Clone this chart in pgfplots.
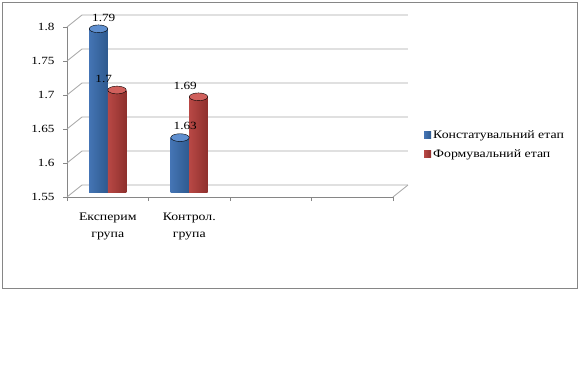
\documentclass[border=0pt]{standalone}
\usepackage{pgfplots}
\pgfplotsset{compat=1.18}
\usepackage{fontspec}
\setmainfont{Liberation Serif}[FakeStretch=1.2]
\definecolor{axc}{HTML}{868686}
\definecolor{gridc}{HTML}{A6A6A6}
\definecolor{bblue}{HTML}{4F81BD}
\definecolor{bblueL}{HTML}{86ABDB}
\definecolor{bblueM}{HTML}{4474B4}
\definecolor{bblueD}{HTML}{2E5A8E}
\definecolor{bblueT}{HTML}{5F8FCF}
\definecolor{bred}{HTML}{C0504D}
\definecolor{bredL}{HTML}{DE8986}
\definecolor{bredM}{HTML}{B84845}
\definecolor{bredD}{HTML}{8E302D}
\definecolor{bredT}{HTML}{D0605C}
\begin{document}
\begin{tikzpicture}[x=1pt,y=1pt]
\useasboundingbox (0,0) rectangle (581,-384);
\draw[axc, line width=1pt] (2.5,-2.5) rectangle (577,-288);
\begin{axis}[
  at={(67pt,-197pt)}, anchor=south west,
  scale only axis, width=326pt, height=170pt,
  xmin=-0.5, xmax=3.5, ymin=1.55, ymax=1.8,
  clip=false,
  axis x line*=bottom, axis y line*=left,
  axis line style={axc, line width=0.8pt},
  every tick/.style={axc, line width=0.8pt},
  tick align=outside,
  major tick length=4pt,
  font=\fontsize{11pt}{13pt}\selectfont,
  xtick={-0.5,0.5,1.5,2.5,3.5}, xticklabels={},
  extra x ticks={0,1},
  extra x tick labels={{Експерим\\група},{Контрол.\\група}},
  extra x tick style={major tick length=0pt, tick label style={align=center, font=\fontsize{11.5pt}{17.5pt}\selectfont, yshift=-12pt}},
  ytick={1.55,1.6,1.65,1.7,1.75,1.8},
  yticklabels={1.55,1.6,1.65,1.7,1.75,1.8},
  yticklabel style={xshift=-5pt},
]
\pgfplotsinvokeforeach{1.55,1.6,1.65,1.7,1.75,1.8}{
  \draw[gridc, line width=0.8pt] (axis cs:-0.5,#1) -- ++(15pt,12pt) -- ([shift={(15pt,12pt)}]axis cs:3.5,#1);
}
\draw[gridc, line width=0.8pt] (axis cs:3.5,1.55) -- ++(15pt,12pt);
\end{axis}
\begin{axis}[
  at={(67pt,-192pt)}, anchor=south west,
  scale only axis, width=326pt, height=170pt,
  xmin=-0.5, xmax=3.5, ymin=1.55, ymax=1.8,
  hide axis, clip=false,
  bar width=18.5pt,
  font=\fontsize{11pt}{13pt}\selectfont,
  /pgf/number format/assume math mode=true,
  legend style={at={(1.086,0.279)}, anchor=west, draw=none, fill=none,
    font=\fontsize{11.5pt}{13pt}\selectfont, row sep=6pt,
    /tikz/every even column/.append style={column sep=1pt}},
  legend cell align=left,
  lbl/.style={nodes near coords,
    every node near coord/.append style={font=\fontsize{11pt}{13pt}\selectfont, xshift=-4pt, yshift=4pt, text=black}},
  blue bar/.style={ybar, lbl, draw=none, bar shift=-9.25pt, left color=bblueM, middle color=bblueL, right color=bblueD,
    legend image code/.code={\fill[bblue] (0pt,-3.5pt) rectangle (7pt,3.5pt);}},
  red bar/.style={ybar, lbl, draw=none, bar shift=9.25pt, left color=bredM, middle color=bredL, right color=bredD,
    legend image code/.code={\fill[bred] (0pt,-3.5pt) rectangle (7pt,3.5pt);}},
  blue top/.style={only marks, forget plot, mark=*, mark size=9.25pt,
    mark options={draw=none, fill=bblueT, xshift=-9.25pt, yscale=0.42}},
  red top/.style={only marks, forget plot, mark=*, mark size=9.25pt,
    mark options={draw=none, fill=bredT, xshift=9.25pt, yscale=0.42}},
]
\addplot[blue bar] coordinates {(0,1.79)};
\addplot[blue bar, forget plot] coordinates {(1,1.63)};
\addplot[red bar] coordinates {(0,1.7)};
\addplot[red bar, forget plot] coordinates {(1,1.69)};
\addplot[blue top] coordinates {(0,1.79) (1,1.63)};
\addplot[red top] coordinates {(0,1.7) (1,1.69)};
\legend{Констатувальний етап, Формувальний етап}
\end{axis}
\end{tikzpicture}
\end{document}
